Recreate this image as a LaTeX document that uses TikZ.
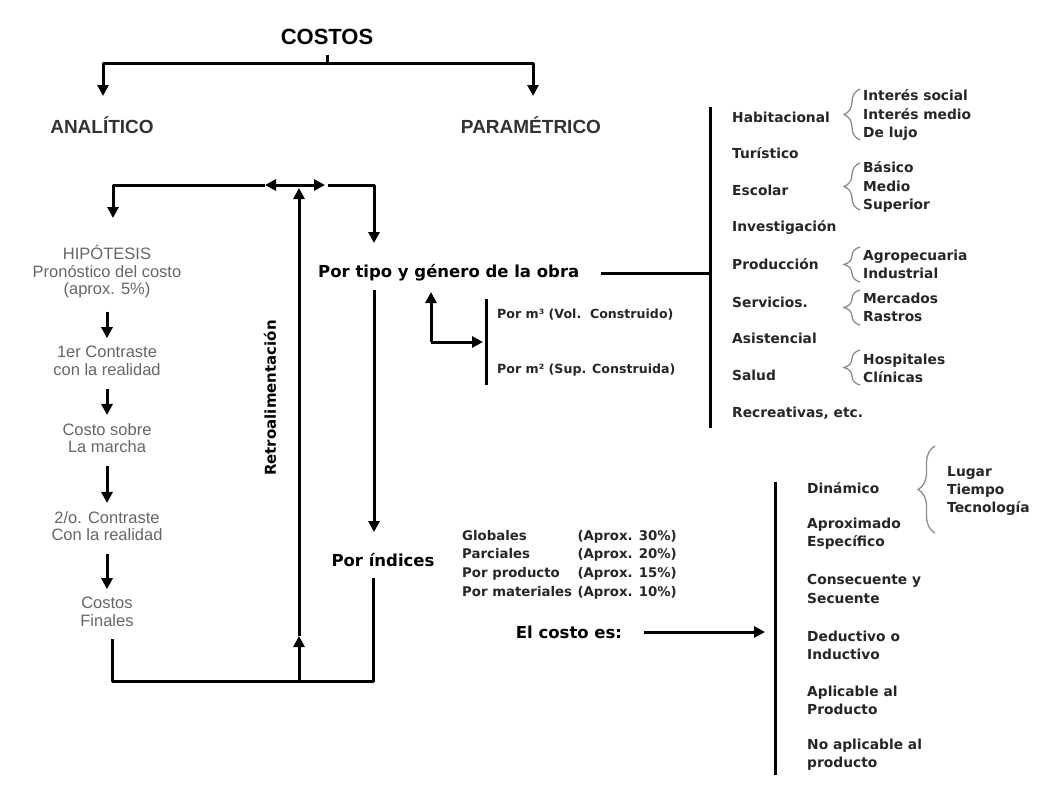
\documentclass[tikz,border=0pt]{standalone}
\usepackage{fontspec}
\setmainfont{Liberation Sans}
\newfontfamily\dvs{DejaVu Sans}
\usetikzlibrary{arrows.meta,decorations.pathreplacing}

\begin{document}
\begin{tikzpicture} [x=1pt,y=-1pt,
  ln/.style={line width=3pt, line join=round},
  flecha/.style={ln, -{Triangle[length=11pt,width=11pt]}},
  paso/.style={flecha, shorten <=13pt, shorten >=8pt},
  llave/.style={draw=black!45, line width=1.3pt, decorate, decoration={brace, amplitude=16pt}},
  gris/.style={text=black!60, font=\fontsize{16.5}{17.5}\selectfont, align=center, inner sep=0pt},
  titulo/.style={text=black!80, font=\bfseries\fontsize{19}{20}\selectfont, inner sep=0pt},
  grande/.style={font=\dvs\bfseries\fontsize{16.5}{18}\selectfont, inner sep=0pt},
  item/.style={text=black!85, font=\dvs\bfseries\fontsize{13.8}{18.3}\selectfont, align=left, anchor=west, inner sep=0pt},
  chico/.style={item, font=\dvs\bfseries\fontsize{12.6}{18}\selectfont},
  lista/.style={item, font=\dvs\bfseries\fontsize{13.3}{18.6}\selectfont}]
  \useasboundingbox (0,0) rectangle (1039,785);

  \node[font=\bfseries\fontsize{22}{24}\selectfont, inner sep=0pt] (costos) at (327,37) {COSTOS};
  \node[titulo] (analitico) at (102,125) {ANALÍTICO};
  \node[titulo] (parametrico) at (531,125) {PARAMÉTRICO};

  \coordinate (split) at (327,63);
  \coordinate (stub) at (327,55);
  \coordinate (ana) at (103,96);
  \coordinate (par) at (533,96);
  \draw[ln] (stub) -- (split);
  \draw[flecha] (split) -| (ana);
  \draw[flecha] (split) -| (par);

  % analitico
  \node[gris] (hipotesis) at (107,272) {HIPÓTESIS\\Pronóstico del costo\\(aprox. 5\%)};
  \node[gris] (contraste1) at (107,361) {1er Contraste\\con la realidad};
  \node[gris] (marcha) at (107,438) {Costo sobre\\La marcha};
  \node[gris] (contraste2) at (107,526) {2/o. Contraste\\Con la realidad};
  \node[gris] (finales) at (107,612) {Costos\\Finales};

  \draw[paso] (hipotesis) -- (contraste1);
  \draw[paso] (contraste1) -- (marcha);
  \draw[paso] (marcha) -- (contraste2);
  \draw[paso] (contraste2) -- (finales);

  % retroalimentacion
  \node[rotate=90, font=\dvs\bfseries\fontsize{15}{16}\selectfont, inner sep=0pt] (retro) at (270,398) {Retroalimentación};
  \coordinate (rcross) at (299,185);
  \coordinate (rtop) at (299,188);
  \coordinate (rmid) at (299,636);
  \coordinate (rbot) at (299,681);
  \coordinate (fbl) at (265,185);
  \coordinate (fbr) at (325,185);
  \coordinate (fbr2) at (328,185);
  \coordinate (hip) at (113,218);
  \coordinate (tin) at (374,243);
  \coordinate (fin) at (112,639);
  \coordinate (ind) at (373,578);
  \draw[flecha] (rbot) -- (rmid);
  \draw[flecha] (rmid) -- (rtop);
  \draw[flecha] (rcross) -- (fbl);
  \draw[flecha] (fbl) -| (hip);
  \draw[flecha] (rcross) -- (fbr);
  \draw[flecha] (fbr2) -| (tin);
  \draw[ln] (fin) |- (rbot) -| (ind);

  % parametrico
  \node[grande, anchor=west] (tipo) at (318,273) {Por tipo y género de la obra};
  \node[grande] (indices) at (383,560) {Por índices};
  \coordinate (t1) at (374,290);
  \coordinate (t2) at (374,532);
  \draw[flecha] (t1) -- (t2);

  \coordinate (m0) at (431,342);
  \coordinate (m1) at (431,292);
  \coordinate (m2) at (483,342);
  \coordinate (v1) at (486,299);
  \coordinate (v2) at (486,385);
  \draw[flecha] (m0) -- (m1);
  \draw[flecha] (m0) -- (m2);
  \draw[ln] (v1) -- (v2);
  \node[chico] (vol) at (497,315) {Por m³ (Vol.~~Construido)};
  \node[chico] (sup) at (497,370) {Por m² (Sup. Construida)};

  \coordinate (b1) at (710,107);
  \coordinate (b2) at (710,428);
  \draw[ln] (b1) -- (b2);
  \draw[ln, shorten <=21pt] (tipo.east) -- (tipo.east -| b1);

  \node[item] (habitacional) at (732,117) {Habitacional};
  \node[item] (turistico) at (732,153) {Turístico};
  \node[item] (escolar) at (732,190) {Escolar};
  \node[item] (investigacion) at (732,227) {Investigación};
  \node[item] (produccion) at (732,264) {Producción};
  \node[item] (servicios) at (732,302) {Servicios.};
  \node[item] (asistencial) at (732,338) {Asistencial};
  \node[item] (salud) at (732,375) {Salud};
  \node[item] (recreativas) at (732,413) {Recreativas, etc.};

  \node[item] (hab) at (863,115) {Interés social\\Interés medio\\De lujo};
  \node[item] (esc) at (863,187) {Básico\\Medio\\Superior};
  \node[item] (pro) at (863,264) {Agropecuaria\\Industrial};
  \node[item] (ser) at (863,307) {Mercados\\Rastros};
  \node[item] (sal) at (863,368) {Hospitales\\Clínicas};

  \draw[llave] (860,140) -- (860,89);
  \draw[llave] (860,210) -- (860,163);
  \draw[llave] (860,282) -- (860,247);
  \draw[llave] (860,325) -- (860,290);
  \draw[llave] (860,385) -- (860,350);

  % indices
  \node[lista, anchor=north west] (tipos) at (462,530) {Globales\\Parciales\\Por producto\\Por materiales};
  \node[lista, anchor=north east, align=right] (aprox) at (677,530) {(Aprox. 30\%)\\(Aprox. 20\%)\\(Aprox. 15\%)\\(Aprox. 10\%)};
  \node[grande] (costoes) at (569,632) {El costo es:};

  \coordinate (c1) at (775,482);
  \coordinate (c2) at (775,775);
  \draw[ln] (c1) -- (c2);
  \draw[flecha, shorten <=22pt, shorten >=10pt] (costoes.east) -- (costoes.east -| c1);

  \node[item] (dinamico) at (807,488) {Dinámico};
  \node[item] (aproximado) at (807,534) {Aproximado\\Específico};
  \node[item] (consecuente) at (807,589) {Consecuente y\\Secuente};
  \node[item] (deductivo) at (807,645) {Deductivo o\\Inductivo};
  \node[item] (aplicable) at (807,700) {Aplicable al\\Producto};
  \node[item] (noaplicable) at (807,755) {No aplicable al\\producto};

  \node[item] (lugar) at (947,491) {Lugar\\Tiempo\\Tecnología};
  \draw[llave, decoration={amplitude=17pt}] (935,533) -- (935,446);

\end{tikzpicture}
\end{document}
